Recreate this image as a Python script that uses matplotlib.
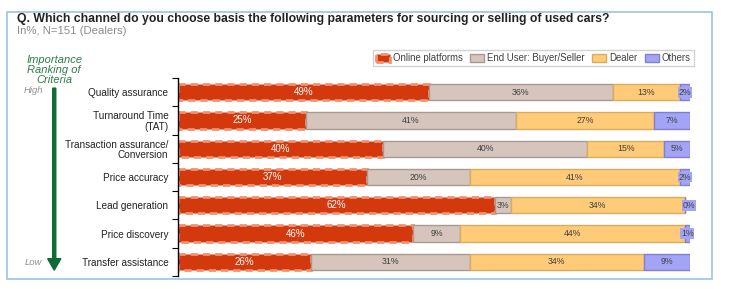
import matplotlib

matplotlib.use("Agg")
import matplotlib.pyplot as plt
from matplotlib.patches import Rectangle, FancyArrow

criteria = [
    "Quality assurance",
    "Turnaround Time\n(TAT)",
    "Transaction assurance/\nConversion",
    "Price accuracy",
    "Lead generation",
    "Price discovery",
    "Transfer assistance",
]
series_names = ["Online platforms", "End User: Buyer/Seller", "Dealer", "Others"]
online = [49, 25, 40, 37, 62, 46, 26]
end_user = [36, 41, 40, 20, 3, 9, 31]
dealer = [13, 27, 15, 41, 34, 44, 34]
others = [2, 7, 5, 2, 0, 1, 9]

colors = ["#D4390E", "#D5C5BC", "#FFCB78", "#A4A4F6"]
edges = ["#F4906E", "#A89A92", "#D9AC5E", "#8080D0"]

plt.rcParams["font.family"] = ["Liberation Sans", "DejaVu Sans"]

fig = plt.figure(figsize=(7.33, 2.89), dpi=100)
ax = fig.add_axes([0.243, 0.045, 0.698, 0.685])

# light blue frame around the whole chart
fig.patches.append(Rectangle((0.010, 0.035), 0.962, 0.925, transform=fig.transFigure,
                             fill=False, edgecolor="#9CC2E5", linewidth=1.2))

y = list(range(len(criteria)))
left = [0] * len(criteria)
for i, vals in enumerate([online, end_user, dealer, others]):
    ax.barh(y, vals, left=left, height=0.58, color=colors[i],
            edgecolor=edges[i], linewidth=2.0 if i == 0 else 1.0,
            linestyle=(0, (2.6, 1.8)) if i == 0 else "-", label=series_names[i])
    for yy, v, l in zip(y, vals, left):
        if i == 0:
            ax.text(l + v / 2, yy, f"{v}%", ha="center", va="center",
                    fontsize=7, color="white")
        elif v <= 2:
            xpos = l + v / 2 if v > 0 else l + 0.8
            ax.text(xpos, yy, f"{v}%", ha="center", va="center", fontsize=6.3,
                    color="#404040",
                    bbox=dict(boxstyle="square,pad=0.1", fc=colors[3], ec="none"))
        else:
            ax.text(l + v / 2, yy, f"{v}%", ha="center", va="center",
                    fontsize=6.3, color="#404040")
    left = [a + b for a, b in zip(left, vals)]

ax.set_xlim(0, 100)
ax.set_ylim(len(criteria) - 0.5, -0.5)
ax.set_yticks(y)
ax.set_yticklabels(criteria, fontsize=7.2, color="#222222", linespacing=1.05)
ax.set_yticks([k + 0.5 for k in range(-1, len(criteria))], minor=True)
ax.tick_params(axis="y", which="major", length=0, pad=7)
ax.tick_params(axis="y", which="minor", length=4, width=0.8, direction="out")
ax.set_xticks([])
for side in ["top", "right", "bottom"]:
    ax.spines[side].set_visible(False)
ax.spines["left"].set_linewidth(1.0)

leg = ax.legend(loc="lower right", bbox_to_anchor=(1.018, 1.035), ncol=4,
                fontsize=6.9, frameon=True, fancybox=False, edgecolor="#C8C8C8",
                handlelength=1.45, handleheight=0.9, columnspacing=0.8,
                handletextpad=0.3, borderpad=0.35)
for t in leg.get_texts():
    t.set_color("#404040")

fig.text(0.023, 0.935, "Q. Which channel do you choose basis the following parameters for sourcing or selling of used cars?",
         fontsize=8.8, fontweight="bold", color="#222222", va="center")
fig.text(0.023, 0.893, "In%, N=151 (Dealers)", fontsize=8.2, color="#8C8C8C", va="center")

fig.text(0.074, 0.758, "Importance\nRanking of\nCriteria", fontsize=8, style="italic",
         color="#2E7D4A", ha="center", va="center", linespacing=1.05)
fig.text(0.045, 0.688, "High", fontsize=6.8, style="italic", color="#909090", ha="center", va="center")
fig.text(0.045, 0.093, "Low", fontsize=6.8, style="italic", color="#909090", ha="center", va="center")
fig.patches.append(FancyArrow(0.074, 0.695, 0, -0.63, width=0.0042, head_width=0.018,
                              head_length=0.04, length_includes_head=True,
                              transform=fig.transFigure, color="#0E6B36"))

fig.savefig("out.png", dpi=100)
